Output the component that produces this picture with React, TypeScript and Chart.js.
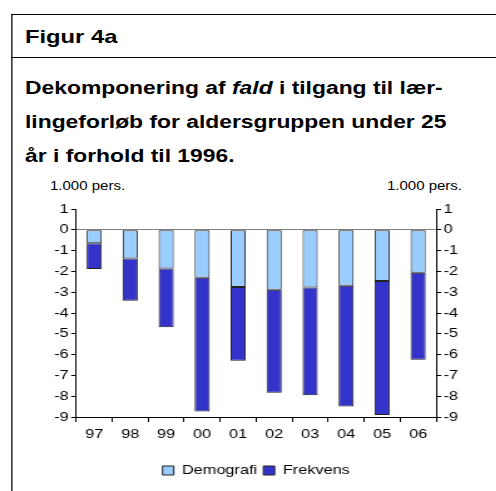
import React, { useEffect, useRef } from "react";
import { Chart, registerables } from "chart.js";

Chart.register(...registerables);

const categories = ["97", "98", "99", "00", "01", "02", "03", "04", "05", "06"];
const demografi = [-0.65, -1.38, -1.86, -2.3, -2.75, -2.88, -2.78, -2.69, -2.46, -2.07];
const frekvens = [-1.23, -2.03, -2.82, -6.44, -3.54, -4.95, -5.18, -5.81, -6.44, -4.18];
const yTicks = [1, 0, -1, -2, -3, -4, -5, -6, -7, -8, -9];

const S = 1.25; // horizontal stretch of the reference
const W = 496 / S;
const FONT = "'Liberation Sans', Arial, sans-serif";

export default function App() {
  const ref = useRef<HTMLCanvasElement | null>(null);

  useEffect(() => {
    if (!ref.current) return;
    const chart = new Chart(ref.current, {
      type: "bar",
      data: {
        labels: categories,
        datasets: [
          {
            label: "Demografi",
            data: demografi,
            backgroundColor: "#99CCFF",
            borderColor: "#222222",
            borderWidth: 1,
            borderSkipped: false,
            stack: "s",
          },
          {
            label: "Frekvens",
            data: frekvens,
            backgroundColor: "#3333CC",
            borderColor: "#222222",
            borderWidth: 1,
            borderSkipped: false,
            stack: "s",
          },
        ],
      },
      options: {
        animation: false,
        responsive: true,
        maintainAspectRatio: false,
        datasets: { bar: { categoryPercentage: 1, barPercentage: 0.42 } },
        layout: { padding: { top: 14, left: 0, right: 0, bottom: 4 } },
        plugins: {
          tooltip: { enabled: false },
          legend: {
            position: "bottom",
            fullSize: false,
            labels: {
              boxWidth: 9,
              boxHeight: 9,
              padding: 5,
              color: "#000",
              font: { family: FONT, size: 13 },
            },
          },
        },
        scales: {
          x: {
            stacked: true,
            offset: true,
            grid: {
              offset: true,
              drawOnChartArea: false,
              drawTicks: true,
              tickLength: 5,
              tickColor: "#000",
            },
            border: { display: true, color: "#000" },
            ticks: { color: "#000", padding: 5, font: { family: FONT, size: 13 } },
            afterFit: (s: any) => {
              s.height = 42;
            },
          },
          y: {
            stacked: true,
            position: "left",
            min: -9,
            max: 1,
            afterBuildTicks: (s: any) => {
              s.ticks = yTicks.map((v) => ({ value: v }));
            },
            grid: {
              drawOnChartArea: true,
              color: (c: any) => (c.tick && c.tick.value === 0 ? "#808080" : "rgba(0,0,0,0)"),
              tickColor: "#000",
              tickLength: 4,
            },
            border: { display: true, color: "#000" },
            ticks: { color: "#000", padding: 2, font: { family: FONT, size: 13 } },
            afterFit: (s: any) => {
              s.width = 60.8;
            },
          },
          y2: {
            position: "right",
            min: -9,
            max: 1,
            afterBuildTicks: (s: any) => {
              s.ticks = yTicks.map((v) => ({ value: v }));
            },
            grid: { drawOnChartArea: false, tickColor: "#000", tickLength: 4 },
            border: { display: true, color: "#000" },
            ticks: { color: "#000", padding: 2, font: { family: FONT, size: 13 } },
            afterFit: (s: any) => {
              s.width = W - 348;
            },
          },
        },
      },
    });
    return () => chart.destroy();
  }, []);

  const title: React.CSSProperties = {
    position: "absolute",
    left: 20,
    fontFamily: FONT,
    fontWeight: "bold",
    fontSize: 18.3,
    color: "#000",
    whiteSpace: "nowrap",
    lineHeight: "22px",
  };
  const unit: React.CSSProperties = {
    position: "absolute",
    top: 179,
    fontFamily: FONT,
    fontSize: 12,
    color: "#000",
    whiteSpace: "nowrap",
    lineHeight: "14px",
  };

  return (
    <div
      style={{
        position: "absolute",
        left: 0,
        top: 0,
        width: W,
        height: 491,
        overflow: "hidden",
        transform: `scaleX(${S})`,
        transformOrigin: "0 0",
        background: "#fff",
      }}
    >
      <div style={{ position: "absolute", left: 8.8, top: 14, width: W, height: 1, background: "#000" }} />
      <div style={{ position: "absolute", left: 8.8, top: 57, width: W, height: 1, background: "#000" }} />
      <div style={{ position: "absolute", left: 8.8, top: 14, width: 1, height: 491, background: "#000" }} />
      <div style={{ ...title, fontSize: 19, top: 26 }}>Figur 4a</div>
      <div style={{ ...title, top: 77 }}>
        Dekomponering af <i>fald</i> i tilgang til lær-
      </div>
      <div style={{ ...title, top: 111 }}>lingeforløb for aldersgruppen under 25</div>
      <div style={{ ...title, top: 145 }}>år i forhold til 1996.</div>
      <div style={{ ...unit, left: 40 }}>1.000 pers.</div>
      <div style={{ ...unit, right: W - 369.6, textAlign: "right" }}>1.000 pers.</div>
      <div style={{ position: "absolute", left: 0, top: 195, width: W, height: 296 }}>
        <canvas ref={ref} />
      </div>
    </div>
  );
}
